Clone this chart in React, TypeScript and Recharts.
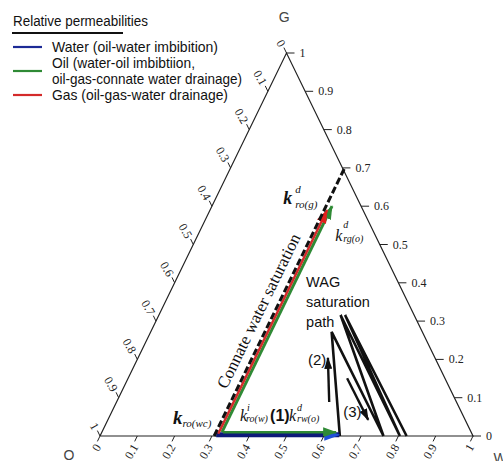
import { ComposedChart, Line, Scatter, XAxis, YAxis } from "recharts";

// ternary coordinates: sw = water saturation (bottom axis), sg = gas saturation (right axis),
// oil saturation so = 1 - sw - sg (left axis)
const tickValues = [0, 0.1, 0.2, 0.3, 0.4, 0.5, 0.6, 0.7, 0.8, 0.9, 1];
const tickLabels = ["0", "0.1", "0.2", "0.3", "0.4", "0.5", "0.6", "0.7", "0.8", "0.9", "1"];

const triangle = [
  { sw: 0, sg: 0 },
  { sw: 1, sg: 0 },
  { sw: 0, sg: 1 },
  { sw: 0, sg: 0 },
];

const connateLine = [
  { sw: 0.306, sg: 0 },
  { sw: 0.306, sg: 0.7 },
];
const gasPath = [
  { sw: 0.314, sg: 0.006 },
  { sw: 0.314, sg: 0.59 },
];
const oilDrainPath = [
  { sw: 0.322, sg: 0.01 },
  { sw: 0.322, sg: 0.6 },
];
const oilImbPath = [
  { sw: 0.325, sg: 0.01 },
  { sw: 0.628, sg: 0.01 },
];
const waterPath = [
  { sw: 0.31, sg: 0.003 },
  { sw: 0.64, sg: 0.003 },
];
const wagPath = [
  { sw: 0.643, sg: 0 },
  { sw: 0.485, sg: 0.272 },
  { sw: 0.76, sg: 0 },
  { sw: 0.487, sg: 0.316 },
  { sw: 0.804, sg: 0 },
  { sw: 0.499, sg: 0.316 },
  { sw: 0.822, sg: 0 },
];
const arrow2 = [
  { sw: 0.57, sg: 0.089 },
  { sw: 0.509, sg: 0.204 },
];
const arrow3 = [
  { sw: 0.587, sg: 0.151 },
  { sw: 0.698, sg: 0.042 },
];

const annotations = [
  { id: "wag", sw: 0.358, sg: 0.389 },
  { id: "n2", sw: 0.465, sg: 0.185 },
  { id: "n3", sw: 0.627, sg: 0.05 },
  { id: "connate", sw: 0.279, sg: 0.32 },
  { id: "kwc", sw: 0.18, sg: 0.031 },
  { id: "krog", sw: 0.188, sg: 0.606 },
  { id: "krgo", sw: 0.376, sg: 0.509 },
  { id: "kbottom", sw: 0.356, sg: 0.039 },
  { id: "G", sw: -0.047, sg: 1.081 },
  { id: "O", sw: -0.052, sg: -0.062 },
  { id: "W", sw: 1.108, sg: -0.07 },
];

const legendTitle = "Relative permeabilities";
const legendItems = [
  { color: "#1c2a96", lines: ["Water (oil-water imbibition)"] },
  { color: "#2f8a35", lines: ["Oil (water-oil imbibtiion,", "oil-gas-connate water drainage)"] },
  { color: "#d42a2a", lines: ["Gas (oil-gas-water drainage)"] },
];

const W = 503;
const H = 461;
const X0 = 100;
const X1 = 473;
const YB = 436;
const YT = 53;
const XDOM = [-X0 / (X1 - X0), (W - X0) / (X1 - X0)];
const YDOM = [-(H - YB) / (YB - YT), YB / (YB - YT)];

const SANS = "'Liberation Sans', Arial, sans-serif";
const SERIF = "'Liberation Serif', 'Times New Roman', serif";

const toXY = (p: { sw: number; sg: number }) => ({ x: p.sw + p.sg / 2, y: p.sg });
const pts = (arr: { sw: number; sg: number }[]) => arr.map(toXY);

const bottomTicks = tickValues.map((v, i) => ({ ...toXY({ sw: v, sg: 0 }), label: tickLabels[i] }));
const rightTicks = tickValues.map((v, i) => ({ ...toXY({ sw: 1 - v, sg: v }), label: tickLabels[i] }));
const leftTicks = tickValues.map((v, i) => ({ ...toXY({ sw: 0, sg: 1 - v }), label: tickLabels[i] }));
const notePts = annotations.map((a) => ({ ...toXY(a), id: a.id }));

const tickFont = { fontFamily: SERIF, fontSize: 12, fill: "#222" };

function BottomTick(props: any) {
  const { cx, cy, payload } = props;
  const ax = cx - 2;
  const ay = cy + 9;
  return (
    <g>
      <line x1={cx} y1={cy} x2={cx - 2.6} y2={cy + 5.4} stroke="#222" strokeWidth={1} />
      <text x={ax} y={ay} transform={`rotate(-60 ${ax} ${ay})`} textAnchor="end" dominantBaseline="central" {...tickFont}>
        {payload.label}
      </text>
    </g>
  );
}

function RightTick(props: any) {
  const { cx, cy, payload } = props;
  return (
    <g>
      <line x1={cx} y1={cy} x2={cx + 8} y2={cy} stroke="#222" strokeWidth={1} />
      <text x={cx + 13} y={cy} textAnchor="start" dominantBaseline="central" {...tickFont}>
        {payload.label}
      </text>
    </g>
  );
}

function LeftTick(props: any) {
  const { cx, cy, payload } = props;
  const ax = cx - 4;
  const ay = cy - 7;
  return (
    <g>
      <line x1={cx} y1={cy} x2={cx - 2.6} y2={cy - 5.4} stroke="#222" strokeWidth={1} />
      <text x={ax} y={ay} transform={`rotate(60 ${ax} ${ay})`} textAnchor="end" dominantBaseline="central" {...tickFont}>
        {payload.label}
      </text>
    </g>
  );
}

function Note(props: any) {
  const { cx, cy, payload } = props;
  switch (payload.id) {
    case "wag":
      return (
        <text x={cx} y={cy} fontFamily={SANS} fontSize={14.5} fill="#111">
          <tspan x={cx}>WAG</tspan>
          <tspan x={cx} dy={20}>saturation</tspan>
          <tspan x={cx} dy={20}>path</tspan>
        </text>
      );
    case "n2":
      return (
        <text x={cx} y={cy} fontFamily={SANS} fontSize={15} fill="#111">
          (2)
        </text>
      );
    case "n3":
      return (
        <text x={cx} y={cy} fontFamily={SANS} fontSize={15} fill="#111">
          (3)
        </text>
      );
    case "connate":
      return (
        <text
          x={cx}
          y={cy}
          transform={`rotate(-64 ${cx} ${cy})`}
          textAnchor="middle"
          fontFamily={SERIF}
          fontSize={17}
          fill="#111"
        >
          Connate water saturation
        </text>
      );
    case "kwc":
      return (
        <text x={cx} y={cy} fontFamily={SERIF} fontStyle="italic" fill="#111">
          <tspan fontSize={19} fontWeight="bold">k</tspan>
          <tspan fontSize={11} dy={3}>ro(wc)</tspan>
        </text>
      );
    case "krog":
      return (
        <text x={cx} y={cy} fontFamily={SERIF} fontStyle="italic" fill="#111">
          <tspan fontSize={18} fontWeight="bold">k</tspan>
          <tspan x={cx + 12} dy={-11} fontSize={11}>d</tspan>
          <tspan x={cx + 12} dy={15} fontSize={11}>ro(g)</tspan>
        </text>
      );
    case "krgo":
      return (
        <text x={cx} y={cy} fontFamily={SERIF} fontStyle="italic" fill="#111">
          <tspan fontSize={16}>k</tspan>
          <tspan x={cx + 8} dy={-13} fontSize={10}>d</tspan>
          <tspan x={cx + 8} dy={14} fontSize={10}>rg(o)</tspan>
        </text>
      );
    case "kbottom":
      return (
        <text x={cx} y={cy} fontFamily={SERIF} fontStyle="italic" fill="#111">
          <tspan fontSize={16}>k</tspan>
          <tspan x={cx + 7} dy={-10} fontSize={10}>i</tspan>
          <tspan x={cx + 6} dy={11} fontSize={10}>ro(w)</tspan>
          <tspan x={cx + 30} dy={-1} fontSize={16} fontStyle="normal" fontWeight="bold" fontFamily={SANS}>(1)</tspan>
          <tspan x={cx + 49} fontSize={16}>k</tspan>
          <tspan x={cx + 57} dy={-10} fontSize={10}>d</tspan>
          <tspan x={cx + 57} dy={11} fontSize={10}>rw(o)</tspan>
        </text>
      );
    default:
      return (
        <text x={cx} y={cy} textAnchor="middle" fontFamily={SANS} fontSize={14} fill="#444">
          {payload.id}
        </text>
      );
  }
}

const lineProps = { dot: false, activeDot: false, isAnimationActive: false, legendType: "none" as const };

const legendRows = [47, 71, 95];
const legendTextY = [52, 68, 100];
const legendTextLen = [[166], [143, 190], [176]];

export default function App() {
  return (
    <div style={{ position: "fixed", left: 0, top: 0, width: W, height: H, background: "#fff" }}>
      <svg width={0} height={0} style={{ position: "absolute" }}>
        <defs>
          <marker id="headRed" markerUnits="userSpaceOnUse" markerWidth={14} markerHeight={10} refX={13} refY={5} orient="auto">
            <path d="M0,0 L14,5 L0,10 z" fill="#e0201c" />
          </marker>
          <marker id="headGreen" markerUnits="userSpaceOnUse" markerWidth={14} markerHeight={10} refX={13} refY={5} orient="auto">
            <path d="M0,0 L14,5 L0,10 z" fill="#2f8a35" />
          </marker>
          <marker id="headBlue" markerUnits="userSpaceOnUse" markerWidth={16} markerHeight={12} refX={15} refY={6} orient="auto">
            <path d="M0,0 L16,6 L0,12 z" fill="#1f50d8" />
          </marker>
          <marker id="headBlack" markerUnits="userSpaceOnUse" markerWidth={12} markerHeight={8} refX={11} refY={4} orient="auto">
            <path d="M0,0 L12,4 L0,8 z" fill="#111" />
          </marker>
        </defs>
      </svg>
      <ComposedChart width={W} height={H} margin={{ top: 0, right: 0, bottom: 0, left: 0 }}>
        <XAxis type="number" dataKey="x" domain={XDOM} hide allowDataOverflow />
        <YAxis type="number" dataKey="y" domain={YDOM} hide allowDataOverflow />
        <Line data={pts(triangle)} dataKey="y" stroke="#222" strokeWidth={1.2} {...lineProps} />
        <Line data={pts(wagPath)} dataKey="y" stroke="#111" strokeWidth={2.6} strokeLinejoin="miter" {...lineProps} />
        <Line data={pts(arrow2)} dataKey="y" stroke="#111" strokeWidth={2.4} markerEnd="url(#headBlack)" {...lineProps} />
        <Line data={pts(arrow3)} dataKey="y" stroke="#111" strokeWidth={2.4} markerEnd="url(#headBlack)" {...lineProps} />
        <Line data={pts(waterPath)} dataKey="y" stroke="#0e1a7a" strokeWidth={5} markerEnd="url(#headBlue)" {...lineProps} />
        <Line data={pts(oilImbPath)} dataKey="y" stroke="#2f8a35" strokeWidth={2.5} markerEnd="url(#headGreen)" {...lineProps} />
        <Line data={pts(oilDrainPath)} dataKey="y" stroke="#2f8a35" strokeWidth={3} markerEnd="url(#headGreen)" {...lineProps} />
        <Line data={pts(gasPath)} dataKey="y" stroke="#d42a2a" strokeWidth={2.5} markerEnd="url(#headRed)" {...lineProps} />
        <Line data={pts(connateLine)} dataKey="y" stroke="#111" strokeWidth={3} strokeDasharray="7 3" {...lineProps} />
        <Scatter data={bottomTicks} shape={BottomTick} isAnimationActive={false} legendType="none" />
        <Scatter data={rightTicks} shape={RightTick} isAnimationActive={false} legendType="none" />
        <Scatter data={leftTicks} shape={LeftTick} isAnimationActive={false} legendType="none" />
        <Scatter data={notePts} shape={Note} isAnimationActive={false} legendType="none" />
      </ComposedChart>
      <svg width={W} height={120} style={{ position: "absolute", left: 0, top: 0, pointerEvents: "none" }}>
        <text x={13} y={26} fontFamily={SANS} fontSize={14} fill="#111" textLength={135} lengthAdjust="spacingAndGlyphs">
          {legendTitle}
        </text>
        <line x1={12} y1={33} x2={123} y2={33} stroke="#111" strokeWidth={2} />
        {legendItems.map((item, i) => (
          <g key={i}>
            <line x1={13} y1={legendRows[i]} x2={42} y2={legendRows[i]} stroke={item.color} strokeWidth={2.2} />
            {item.lines.map((t, j) => (
              <text
                key={j}
                x={52}
                y={legendTextY[i] + j * 16}
                fontFamily={SANS}
                fontSize={15}
                fill="#111"
                textLength={legendTextLen[i][j]}
                lengthAdjust="spacingAndGlyphs"
              >
                {t}
              </text>
            ))}
          </g>
        ))}
      </svg>
    </div>
  );
}
